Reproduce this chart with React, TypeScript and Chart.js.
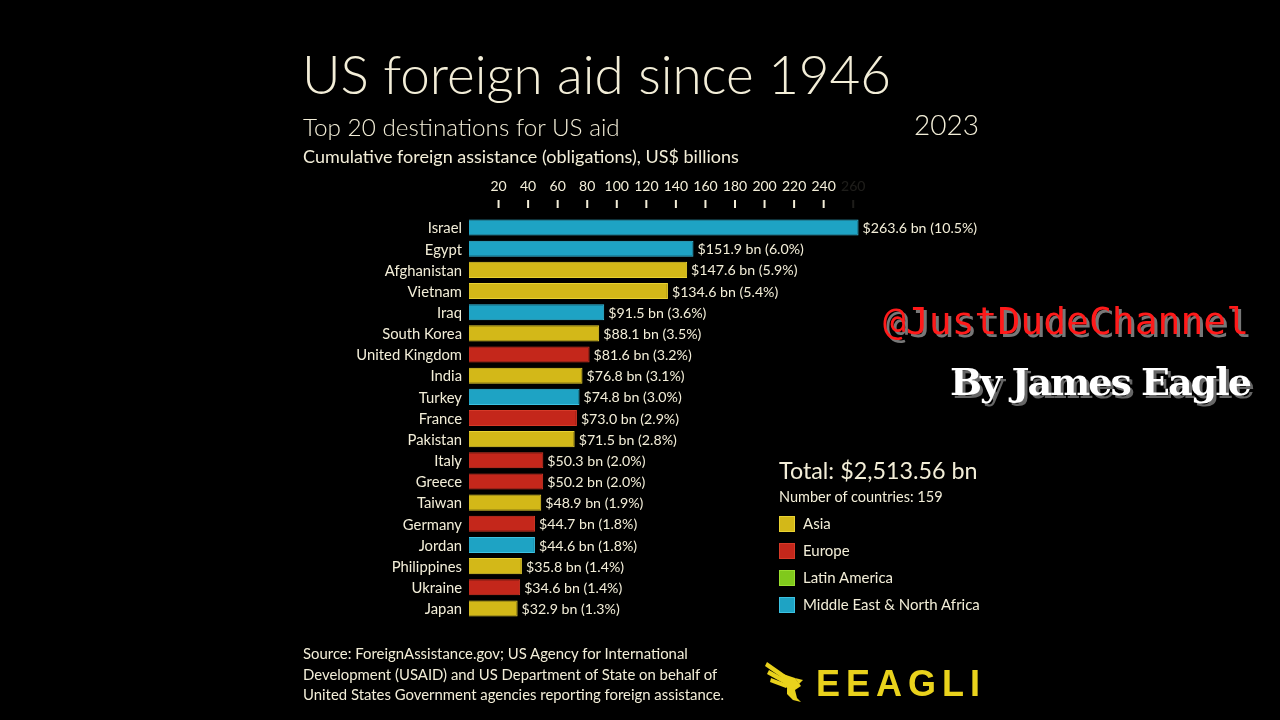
import React, { useEffect, useRef } from "react";
import { Chart, registerables } from "chart.js";
Chart.register(...registerables);

const countries = ["Israel", "Egypt", "Afghanistan", "Vietnam", "Iraq", "South Korea", "United Kingdom", "India", "Turkey", "France", "Pakistan", "Italy", "Greece", "Taiwan", "Germany", "Jordan", "Philippines", "Ukraine", "Japan"];
const values = [263.6, 151.9, 147.6, 134.6, 91.5, 88.1, 81.6, 76.8, 74.8, 73.0, 71.5, 50.3, 50.2, 48.9, 44.7, 44.6, 35.8, 34.6, 32.9];
const shares = ["10.5%", "6.0%", "5.9%", "5.4%", "3.6%", "3.5%", "3.2%", "3.1%", "3.0%", "2.9%", "2.8%", "2.0%", "2.0%", "1.9%", "1.8%", "1.8%", "1.4%", "1.4%", "1.3%"];
const regions = ["MENA", "MENA", "Asia", "Asia", "MENA", "Asia", "Europe", "Asia", "MENA", "Europe", "Asia", "Europe", "Europe", "Asia", "Europe", "MENA", "Asia", "Europe", "Asia"];
const legendNames = ["Asia", "Europe", "Latin America", "Middle East & North Africa"];
const legendKeys = ["Asia", "Europe", "Latin", "MENA"];
const tickValues = [20, 40, 60, 80, 100, 120, 140, 160, 180, 200, 220, 240, 260];

const FILL: Record<string, string> = { Asia: "#d3b818", Europe: "#c4271b", Latin: "#80c91c", MENA: "#1ea3c4" };
const EDGE: Record<string, string> = { Asia: "#e9d232", Europe: "#d63a28", Latin: "#9ade30", MENA: "#3cc2e2" };
const CREAM = "#f3eed8";
const FONT = "Lato, 'Noto Sans', sans-serif";

const overlayPlugin = {
  id: "overlay",
  afterDatasetsDraw(chart: any) {
    const { ctx, chartArea } = chart;
    const xs = chart.scales.x;
    const ys = chart.scales.y;
    ctx.save();
    ctx.textAlign = "center";
    ctx.textBaseline = "middle";
    ctx.font = `14px ${FONT}`;
    tickValues.forEach((v) => {
      const px = xs.getPixelForValue(v);
      const faded = v === 260;
      ctx.fillStyle = faded ? "rgba(243,238,216,0.12)" : CREAM;
      ctx.fillText(String(v), px, 186);
      ctx.strokeStyle = faded ? "rgba(243,238,216,0.12)" : CREAM;
      ctx.lineWidth = 2;
      ctx.beginPath();
      ctx.moveTo(px, 200);
      ctx.lineTo(px, 208);
      ctx.stroke();
    });
    ctx.textBaseline = "middle";
    countries.forEach((c, i) => {
      const py = ys.getPixelForValue(i);
      ctx.textAlign = "right";
      ctx.fillStyle = CREAM;
      ctx.font = `14.8px ${FONT}`;
      ctx.fillText(c, chartArea.left - 7, py + 1);
      ctx.textAlign = "left";
      ctx.font = `14.2px ${FONT}`;
      const ex = xs.getPixelForValue(values[i]);
      ctx.fillText(`$${values[i].toFixed(1)} bn (${shares[i]})`, ex + 4, py + 1);
    });
    ctx.restore();
  },
};

function Eagle() {
  return (
    <svg width="40" height="44" viewBox="0 0 40 44" style={{ position: "absolute", left: 765, top: 660 }}>
      <g fill="#e9d21c">
        <polygon points="2,2 22,16 20,20 0,6" />
        <polygon points="4,10 22,20 20,24 2,14" />
        <polygon points="6,18 22,24 21,28 5,22" />
        <polygon points="18,14 30,18 36,26 30,30 24,30 20,26" />
        <polygon points="22,28 30,30 32,38 36,42 28,40 22,34" />
        <polygon points="30,18 38,20 34,24" />
      </g>
    </svg>
  );
}

export default function App() {
  const ref = useRef<HTMLCanvasElement | null>(null);
  useEffect(() => {
    document.body.style.margin = "0";
    document.body.style.background = "#000";
    const chart = new Chart(ref.current as HTMLCanvasElement, {
      type: "bar",
      data: {
        labels: countries,
        datasets: [
          {
            data: values,
            backgroundColor: regions.map((r) => FILL[r]),
            borderColor: regions.map((r) => EDGE[r]),
            borderWidth: 1,
            barPercentage: 0.76,
            categoryPercentage: 1,
          },
        ],
      },
      options: {
        indexAxis: "y",
        animation: false,
        responsive: false,
        maintainAspectRatio: false,
        layout: { padding: { left: 469, right: 412, top: 217, bottom: 101 } },
        plugins: { legend: { display: false }, tooltip: { enabled: false } },
        scales: {
          x: { type: "linear", min: 0, max: 270, display: false },
          y: { type: "category", display: false, offset: true },
        },
      },
      plugins: [overlayPlugin],
    });
    return () => chart.destroy();
  }, []);

  const t = (extra: React.CSSProperties): React.CSSProperties => ({
    position: "absolute",
    color: CREAM,
    fontFamily: FONT,
    whiteSpace: "nowrap",
    lineHeight: 1,
    ...extra,
  });

  return (
    <div style={{ position: "fixed", left: 0, top: 0, width: 1280, height: 720, background: "#000", overflow: "hidden" }}>
      <canvas ref={ref} width={1280} height={720} style={{ position: "absolute", left: 0, top: 0, width: 1280, height: 720 }} />
      <div style={t({ left: 302, top: 47, fontSize: 53, fontWeight: 300 })}>US foreign aid since 1946</div>
      <div style={t({ left: 303, top: 115, fontSize: 24.3, fontWeight: 300 })}>Top 20 destinations for US aid</div>
      <div style={t({ left: 303, top: 147, fontSize: 18 })}>Cumulative foreign assistance (obligations), US$ billions</div>
      <div style={t({ left: 914, top: 110, fontSize: 28, fontWeight: 300 })}>2023</div>

      <div style={t({ left: 779, top: 459, fontSize: 23.3 })}>Total: $2,513.56 bn</div>
      <div style={t({ left: 779, top: 490, fontSize: 14.5 })}>Number of countries: 159</div>
      {legendNames.map((n, i) => (
        <div key={n}>
          <div style={{ position: "absolute", left: 779, top: 516 + i * 27, width: 16, height: 16, background: FILL[legendKeys[i]], border: `1px solid ${EDGE[legendKeys[i]]}`, boxSizing: "border-box" }} />
          <div style={t({ left: 803, top: 516 + i * 27, fontSize: 15 })}>{n}</div>
        </div>
      ))}

      <div style={t({ left: 883, top: 302, fontSize: 38, fontFamily: "'DejaVu Sans Mono', monospace", color: "#ff1a1a", textShadow: "3px 3px 0 #777" })}>@JustDudeChannel</div>
      <div style={t({ left: 950, top: 363, fontSize: 38, fontWeight: 700, fontFamily: "'DejaVu Serif', serif", color: "#ffffff", textShadow: "3px 3px 0 #666", letterSpacing: -2 })}>By James Eagle</div>

      <div style={t({ left: 303, top: 643, fontSize: 14.9, lineHeight: "20.5px", whiteSpace: "nowrap" })}>
        Source: ForeignAssistance.gov; US Agency for International<br />
        Development (USAID) and US Department of State on behalf of<br />
        United States Government agencies reporting foreign assistance.
      </div>

      <Eagle />
      <div style={t({ left: 816, top: 666, fontSize: 36, fontWeight: 700, color: "#e9d21c", letterSpacing: 6, fontFamily: "'Liberation Sans', Arial, sans-serif" })}>EEAGLI</div>
    </div>
  );
}
